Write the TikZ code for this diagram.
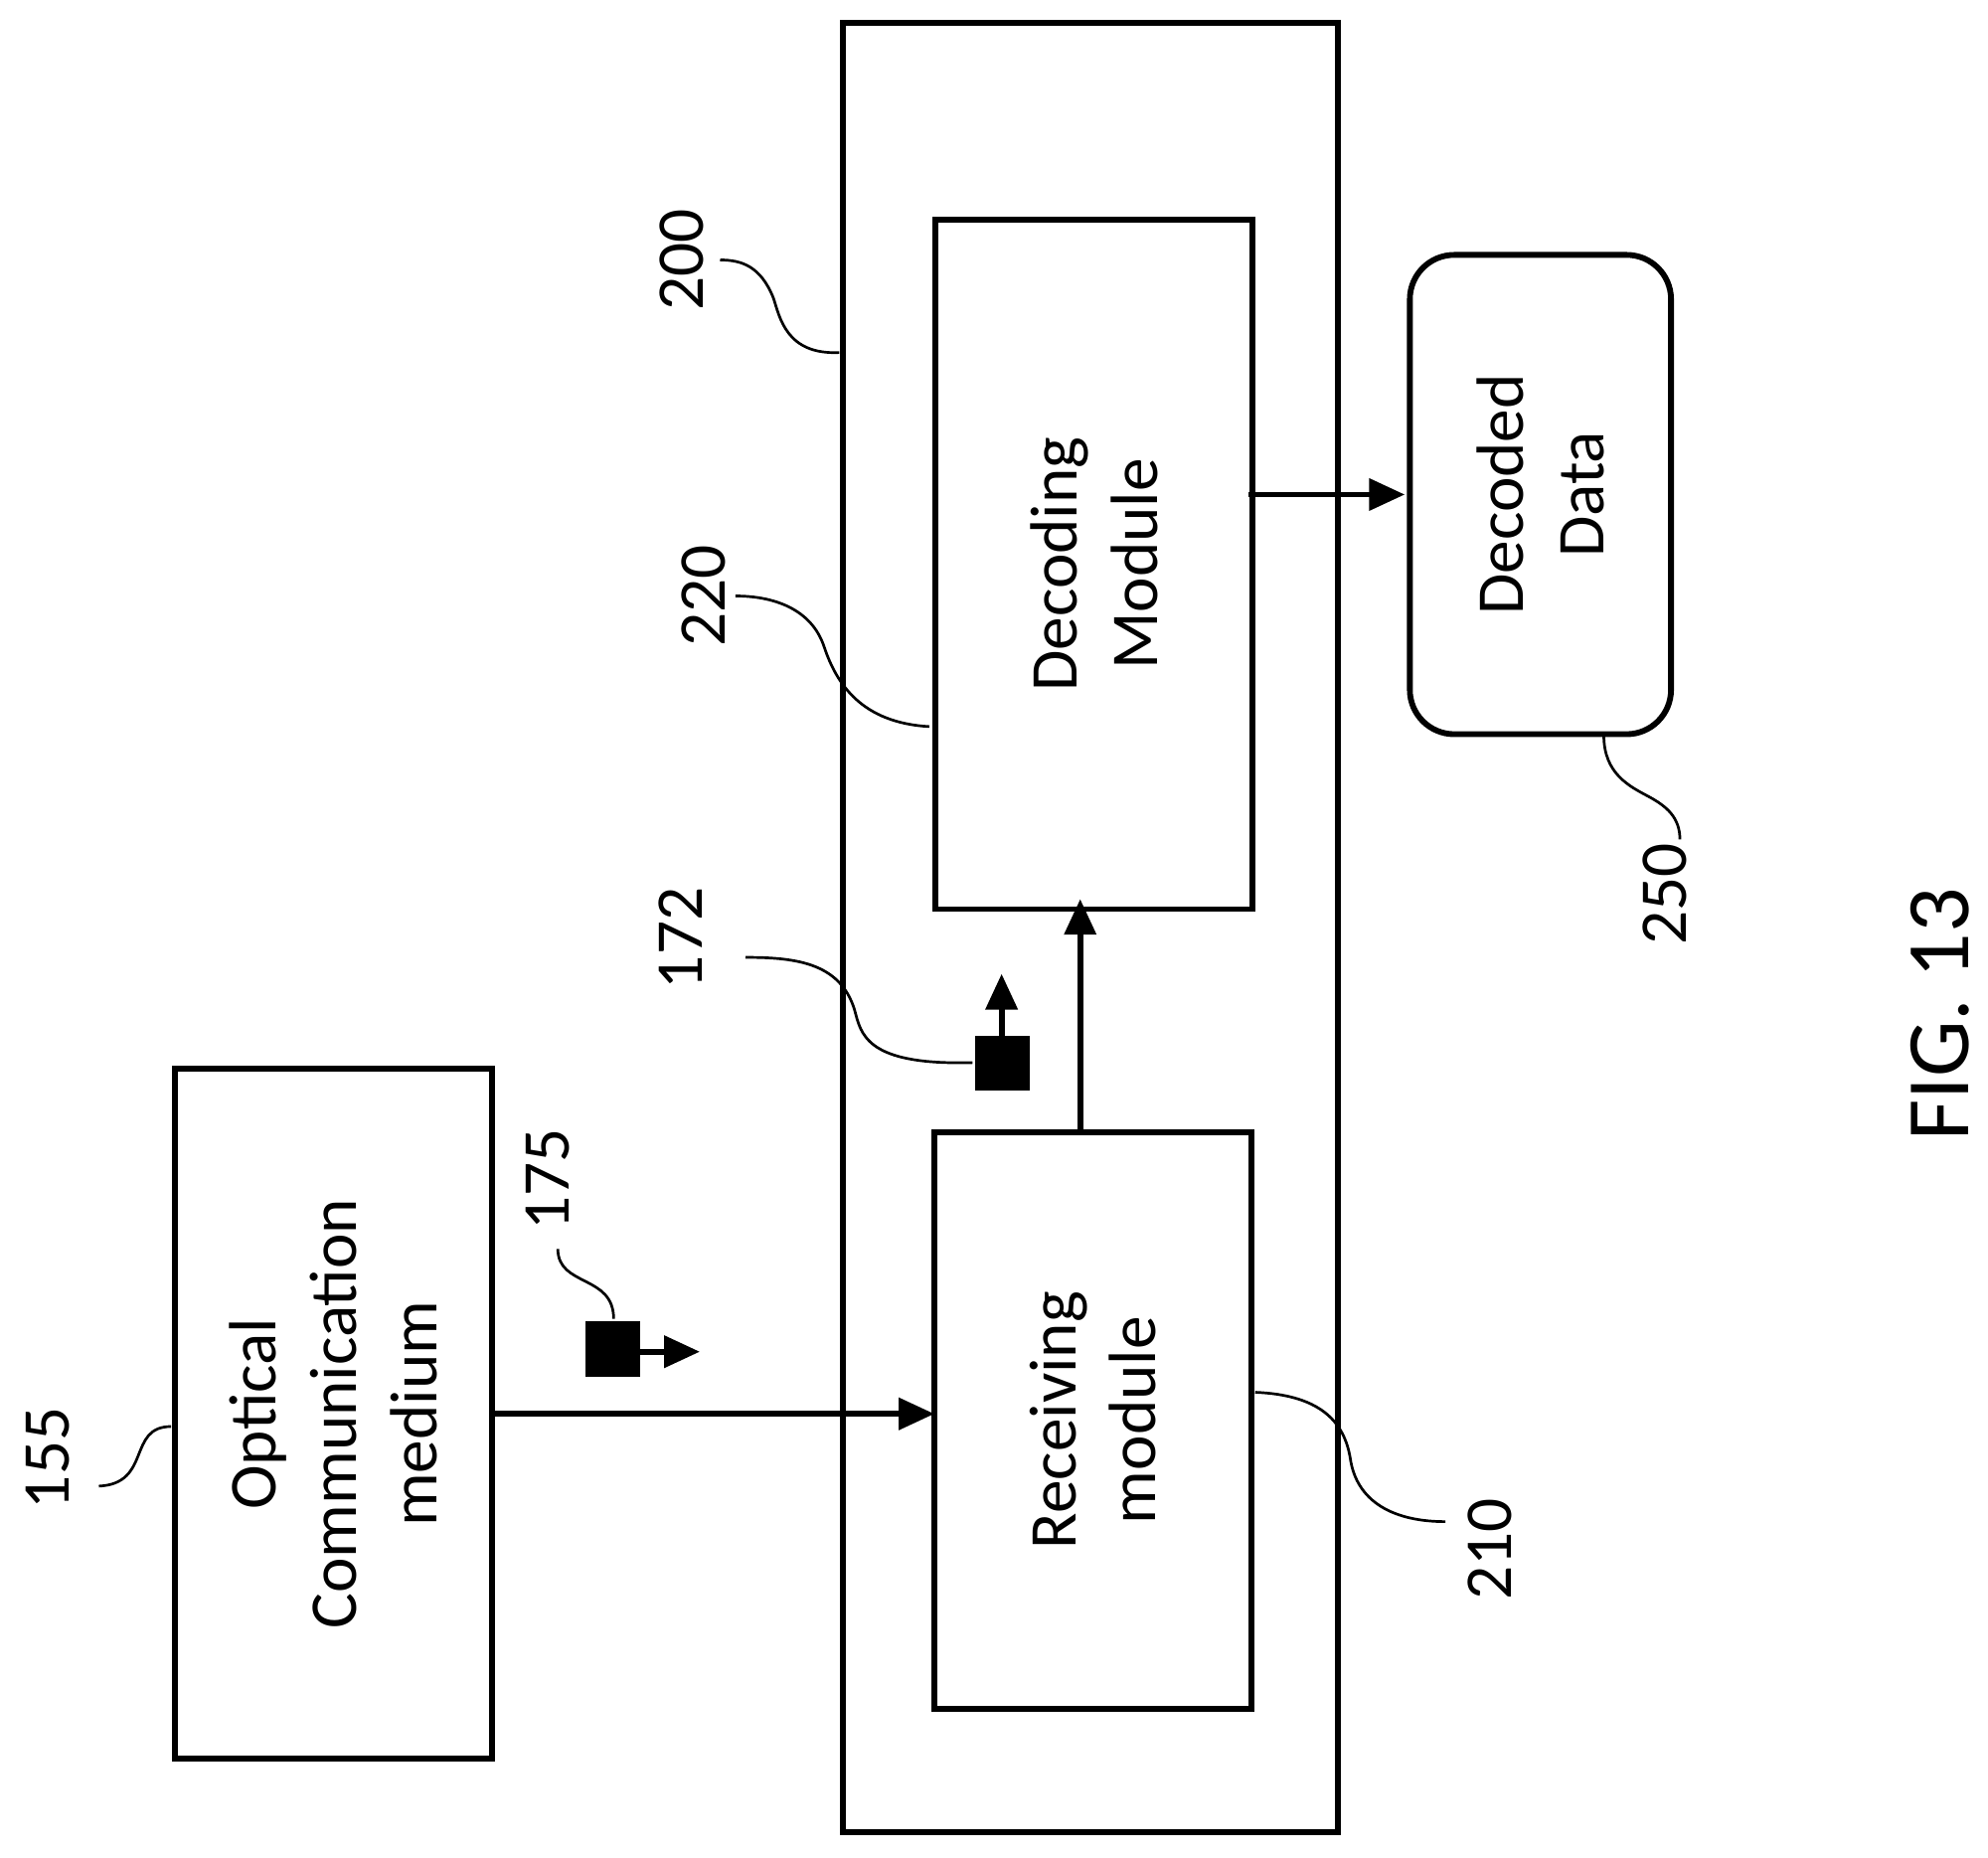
\documentclass[tikz,border=0pt]{standalone}
\usepackage{fontspec}
\setmainfont{Carlito}
\usetikzlibrary{arrows.meta}
\begin{document}
\begin{tikzpicture}[x=0.01cm,y=-0.01cm,
 box/.style={draw,line width=1.3pt},
 lbl/.style={rotate=90,font=\fontsize{15}{18}\selectfont,align=center},
 num/.style={rotate=90,font=\fontsize{15}{18}\selectfont},
 lead/.style={line width=0.6pt},
 arr/.style={line width=1.3pt,-{Triangle[length=8pt,width=7pt]}}]
\useasboundingbox (0,0) rectangle (1568,1465);
\draw[box] (665,18) rectangle (1055,1445);
\draw[box] (738,173) rectangle (988,717);
\node[lbl] (dec) at (863,445) {Decoding\\Module};
\draw[box] (737,893) rectangle (987,1348);
\node[lbl] (rec) at (862,1120) {Receiving\\module};
\draw[box] (138,843) rectangle (388,1387);
\node[lbl] (opt) at (263,1115) {Optical\\Communication\\medium};
\draw[box,rounded corners=0.35cm] (1112,201) rectangle (1318,579);
\node[lbl] (dd) at (1215,390) {Decoded\\Data};
\draw[arr] (388,1115) -- (737,1115);
\draw[arr] (852,893) -- (852,709);
\draw[arr] (985,390) -- (1108,390);
\fill (462,1042) rectangle (505,1086);
\draw[arr] (505,1066) -- (552,1066);
\fill (769,817) rectangle (812,860);
\draw[arr] (790,817) -- (790,768);
\node[num] at (38,1150) {155};
\node[num] at (432,930) {175};
\node[num] at (537,740) {172};
\node[num] at (538,205) {200};
\node[num] at (555,470) {220};
\node[num] at (1175,1222) {210};
\node[num] at (1313,705) {250};
\node[rotate=90,font=\fontsize{20}{24}\selectfont] at (1530,800) {FIG. 13};
\draw[lead] (135,1125) .. controls (100,1125) and (120,1170) .. (78,1172);
\draw[lead] (484,1040) .. controls (484,1005) and (440,1015) .. (440,985);
\draw[lead] (767,838) .. controls (690,840) and (680,820) .. (675,800) .. controls (665,760) and (630,755) .. (588,755);
\draw[lead] (662,278) .. controls (620,280) and (615,250) .. (610,235) .. controls (600,210) and (585,205) .. (568,205);
\draw[lead] (733,573) .. controls (680,570) and (660,540) .. (650,510) .. controls (640,480) and (610,470) .. (580,470);
\draw[lead] (990,1098) .. controls (1040,1100) and (1060,1120) .. (1065,1150) .. controls (1070,1185) and (1100,1200) .. (1140,1200);
\draw[lead] (1265,580) .. controls (1265,610) and (1285,620) .. (1300,628) .. controls (1315,636) and (1325,645) .. (1325,662);
\end{tikzpicture}
\end{document}
